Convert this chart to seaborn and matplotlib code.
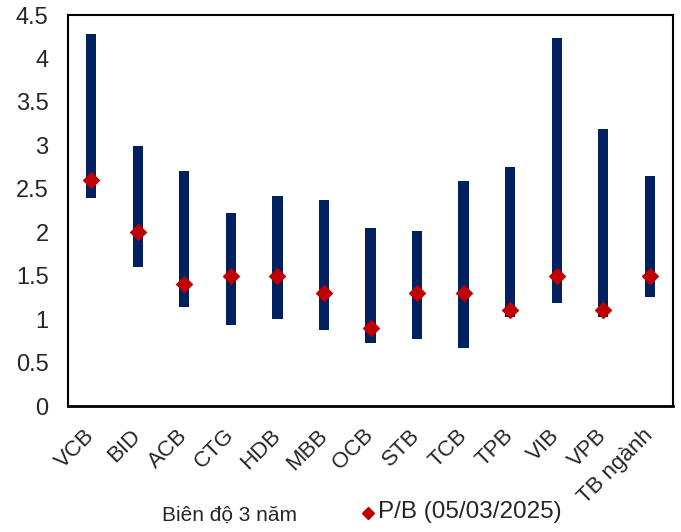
import seaborn as sns
import matplotlib.pyplot as plt
from matplotlib.ticker import FuncFormatter
from matplotlib.lines import Line2D

# P/B range over 3 years and current P/B per bank
banks = ['VCB', 'BID', 'ACB', 'CTG', 'HDB', 'MBB', 'OCB', 'STB', 'TCB', 'TPB', 'VIB', 'VPB', 'TB ngành']
pb_high = [4.28, 2.99, 2.70, 2.22, 2.42, 2.37, 2.05, 2.01, 2.59, 2.75, 4.23, 3.19, 2.65]
pb_low = [2.39, 1.60, 1.14, 0.93, 1.00, 0.88, 0.73, 0.77, 0.67, 1.02, 1.18, 1.03, 1.25]
pb_now = [2.6, 2.0, 1.4, 1.5, 1.5, 1.3, 0.9, 1.3, 1.3, 1.1, 1.5, 1.1, 1.5]

sns.set_style('white')
plt.rcParams['font.family'] = ['Liberation Sans', 'DejaVu Sans']

fig = plt.figure(figsize=(6.81, 5.32), dpi=100)
ax = fig.add_axes([0.0999, 0.2368, 0.8884, 0.735])

# range bar: full bar up to the high, then white bar up to the low (excel stacked trick)
sns.barplot(x=banks, y=pb_high, color='#002060', width=0.22, linewidth=0, saturation=1, ax=ax)
sns.barplot(x=banks, y=pb_low, color='white', width=0.24, linewidth=0, saturation=1, ax=ax)
sns.stripplot(x=banks, y=pb_now, jitter=False, marker='D', size=9, color='#C00000',
              linewidth=0, ax=ax, zorder=5)

ax.set_ylim(0, 4.5)
ax.set_xlim(-0.5, 12.5)
ax.set_yticks([i * 0.5 for i in range(10)])
ax.yaxis.set_major_formatter(FuncFormatter(lambda v, p: '%g' % v))
ax.tick_params(axis='y', length=0, pad=14, labelsize=17)
ax.tick_params(axis='x', length=0, pad=19, labelsize=16)
for lab in ax.get_xticklabels():
    lab.set_rotation(45)
    lab.set_ha('right')
    lab.set_va('center')
    lab.set_rotation_mode('anchor')

for side, sp in ax.spines.items():
    sp.set_visible(True)
    sp.set_color('black')
    sp.set_linewidth(1.5)
ax.spines['bottom'].set_linewidth(2)

# legend drawn as free text, like the original
fig.text(229 / 681, 1 - 515 / 532, 'Biên độ 3 năm', fontsize=15, ha='center', va='center')
fig.add_artist(Line2D([368 / 681], [1 - 513 / 532], marker='D', markersize=6,
                      color='#C00000', linestyle='none', transform=fig.transFigure))
fig.text(378 / 681, 1 - 512 / 532, 'P/B (05/03/2025)', fontsize=17.5, ha='left', va='center')

fig.savefig('out.png', dpi=100)
